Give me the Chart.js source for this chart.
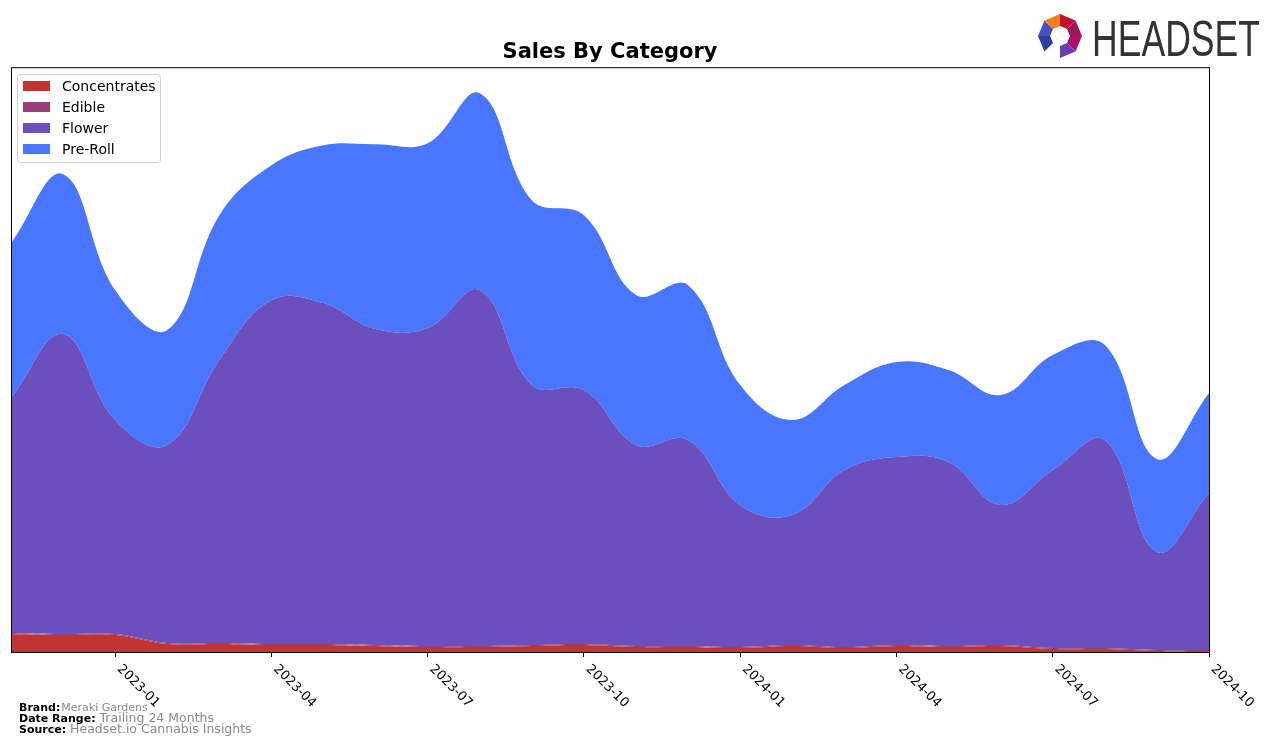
<!DOCTYPE html>
<html>
<head>
<meta charset="utf-8">
<script src="https://cdn.jsdelivr.net/npm/chart.js@4/dist/chart.umd.min.js"></script>
<style>
  html, body { margin: 0; padding: 0; background: #fff; }
  #wrap { width: 1276px; height: 747px; }
</style>
</head>
<body>
<div id="wrap"><canvas id="salesChart" width="1276" height="747"></canvas></div>
<script>
// months from 2022-11 to 2024-10
const months = ['2022-11', '2022-12', '2023-01', '2023-02', '2023-03', '2023-04', '2023-05', '2023-06',
  '2023-07', '2023-08', '2023-09', '2023-10', '2023-11', '2023-12', '2024-01', '2024-02',
  '2024-03', '2024-04', '2024-05', '2024-06', '2024-07', '2024-08', '2024-09', '2024-10']
const categories = ['Concentrates', 'Edible', 'Flower', 'Pre-Roll']
const colors = ['#c13434', '#993d79', '#6a4fbd', '#4876ff']

// estimated sales (arbitrary units, no y ticks on the original)
const concentrates = [18, 17, 17, 8, 8, 7, 7, 6, 5, 5, 6, 7, 5, 5, 4, 6, 4, 6, 5, 6, 3, 3, 1, 1]
const edible = [1, 1, 1, 1, 1, 1, 1, 1, 1, 1, 1, 1, 1, 1, 1, 1, 1, 1, 1, 1, 1, 1, 1, 1]
const flower = [235, 300, 214, 198, 283, 344, 341, 316, 318, 356, 260, 254, 201, 206, 142, 130, 177, 188, 184, 140, 178, 208, 98, 157]
const preRoll = [155, 160, 130, 115, 145, 135, 158, 185, 185, 197, 185, 175, 150, 155, 120, 95, 85, 95, 92, 110, 115, 95, 93, 100]

const tickLabels = ['2023-01', '2023-04', '2023-07', '2023-10', '2024-01', '2024-04', '2024-07', '2024-10']

const series = [concentrates, edible, flower, preRoll]

const datasets = categories.map((name, i) => ({
  label: name,
  data: series[i].map((v, j) => ({ x: j, y: v })),
  backgroundColor: colors[i],
  borderColor: colors[i],
  borderWidth: 0,
  pointRadius: 0,
  tension: 0.4,
  fill: i === 0 ? 'origin' : '-1'
}))

// frame, legend, rotated tick labels, logo and footer
const decorations = {
  id: 'decorations',
  afterDraw (chart) {
    const ctx = chart.ctx
    const area = chart.chartArea
    const xs = chart.scales.x
    ctx.save()

    // frame
    ctx.strokeStyle = '#000'
    ctx.lineWidth = 1
    ctx.strokeRect(area.left + 0.5, area.top + 0.5, area.right - area.left, area.bottom - area.top)

    // x tick labels rotated clockwise
    ctx.fillStyle = '#000'
    ctx.font = '13px "DejaVu Sans"'
    ctx.textAlign = 'left'
    ctx.textBaseline = 'middle'
    tickLabels.forEach((t) => {
      const idx = months.indexOf(t)
      const px = xs.getPixelForValue(idx)
      ctx.save()
      ctx.translate(px + 4, area.bottom + 15)
      ctx.rotate(Math.PI / 4)
      ctx.fillText(t, 0, 0)
      ctx.restore()
    })

    // legend
    const lx = 17, ly = 74, lw = 143, lh = 88
    ctx.beginPath()
    ctx.roundRect(lx + 0.5, ly + 0.5, lw, lh, 3)
    ctx.fillStyle = 'rgba(255,255,255,0.8)'
    ctx.fill()
    ctx.strokeStyle = '#d0d0d0'
    ctx.stroke()
    ctx.font = '14px "DejaVu Sans"'
    ctx.textBaseline = 'middle'
    categories.forEach((name, i) => {
      const cy = ly + 12 + i * 21
      ctx.fillStyle = colors[i]
      ctx.fillRect(lx + 6, cy - 5, 27, 10)
      ctx.fillStyle = '#000'
      ctx.fillText(name, lx + 45, cy + 1)
    })

    // logo
    const cx = 1060, cy = 36
    const pts = []
    for (let k = 0; k < 8; k++) {
      const a = -Math.PI / 2 + k * Math.PI / 4
      pts.push([cx + 22 * Math.cos(a), cy + 22 * Math.sin(a)])
    }
    const segColors = ['#c8102e', '#a0185a', '#b0106a', '#6a3fb0', '#3a2f8f', '#2a3f9f', '#4a4fc0', '#f08020']
    for (let k = 0; k < 8; k++) {
      if (k === 4) continue
      const p1 = pts[k], p2 = pts[(k + 1) % 8]
      ctx.beginPath()
      ctx.moveTo(cx + (p1[0] - cx) * 0.45, cy + (p1[1] - cy) * 0.45)
      ctx.lineTo(p1[0], p1[1])
      ctx.lineTo(p2[0], p2[1])
      ctx.lineTo(cx + (p2[0] - cx) * 0.45, cy + (p2[1] - cy) * 0.45)
      ctx.closePath()
      ctx.fillStyle = segColors[k]
      ctx.fill()
    }
    ctx.fillStyle = '#333'
    ctx.font = '50px "Liberation Sans Narrow", "Liberation Sans", sans-serif'
    ctx.textAlign = 'left'
    ctx.textBaseline = 'alphabetic'
    const logoText = 'HEADSET'
    const w = ctx.measureText(logoText).width
    ctx.save()
    ctx.translate(1092, 56)
    ctx.scale(168 / w, 1)
    ctx.fillText(logoText, 0, 0)
    ctx.restore()

    // footer
    const footer = [['Brand:', 'Meraki Gardens', 11], ['Date Range:', 'Trailing 24 Months', 12.5], ['Source:', 'Headset.io Cannabis Insights', 12.5]]
    footer.forEach((row, i) => {
      const y = 708 + i * 11
      ctx.font = 'bold 11px "DejaVu Sans"'
      ctx.fillStyle = '#000'
      ctx.textBaseline = 'middle'
      ctx.fillText(row[0], 19, y)
      const bw = ctx.measureText(row[0]).width
      ctx.font = row[2] + 'px "DejaVu Sans"'
      ctx.fillStyle = '#888'
      ctx.fillText(row[1], 19 + bw + (i === 0 ? 1 : 4), y)
    })
    ctx.restore()
  }
}

const myChart = new Chart(document.getElementById('salesChart'), {
  type: 'line',
  data: { datasets: datasets },
  options: {
    responsive: false,
    animation: false,
    layout: { padding: { left: 11, right: 67, top: 40, bottom: 90 } },
    plugins: {
      legend: { display: false },
      tooltip: { enabled: false },
      title: {
        display: true,
        text: 'Sales By Category',
        color: '#000',
        font: { family: 'DejaVu Sans', size: 21, weight: 'bold' },
        padding: { top: 0, bottom: 2 }
      }
    },
    scales: {
      x: {
        type: 'linear',
        min: 0,
        max: months.length - 1,
        afterBuildTicks: (scale) => {
          scale.ticks = tickLabels.map((t) => ({ value: months.indexOf(t) }))
        },
        ticks: { display: false },
        border: { display: false },
        grid: { drawOnChartArea: false, drawTicks: true, tickLength: 5, tickColor: '#000', color: '#000' }
      },
      y: {
        stacked: true,
        display: false,
        min: 0,
        max: 585
      }
    }
  },
  plugins: [decorations]
})
</script>
</body>
</html>
